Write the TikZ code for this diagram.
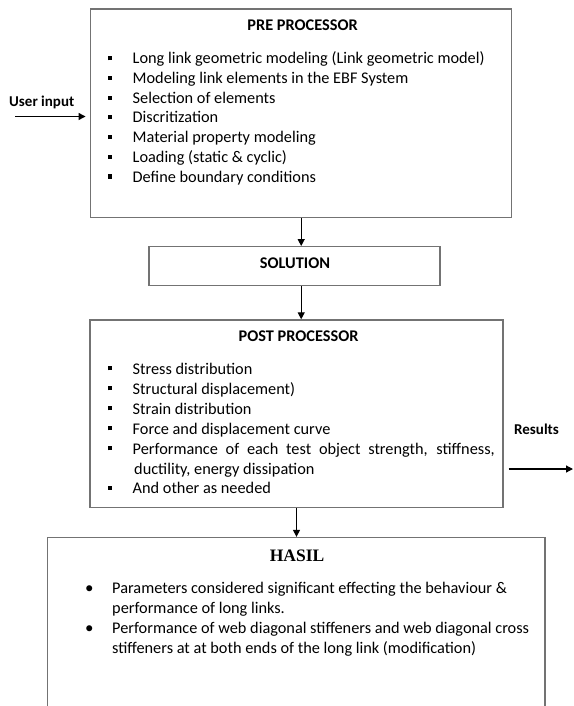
\documentclass[tikz,border=0pt]{standalone}
\usepackage{fontspec}
\setmainfont{Carlito}
\newfontfamily\timesfont{Liberation Serif}
\usetikzlibrary{arrows.meta}
\newcommand{\sqb}{\makebox[24.5pt][l]{\rule[0.22em]{4.2pt}{4.2pt}}}
\newcommand{\rdb}{\makebox[27pt][l]{\raisebox{-0.05em}{\fontsize{17}{17}\selectfont\symbol{"2022}}}}
\tikzset{
  box/.style={draw=black!55, line width=1.3pt, rectangle, inner sep=0pt},
  arr/.style={draw=black, line width=1.2pt, -{Triangle[length=7pt,width=7pt]}},
  txt/.style={anchor=base west, inner sep=0pt, font=\fontsize{16.3}{19}\selectfont},
  ttl/.style={anchor=center, inner sep=0pt, font=\fontsize{16.3}{19}\selectfont\bfseries},
  side/.style={anchor=west, inner sep=0pt, font=\fontsize{15}{18}\selectfont\bfseries},
}
\begin{document}
\begin{tikzpicture}[x=1pt,y=-1pt]
\path[use as bounding box] (0,0) rectangle (573,706);
% boxes
\node[box, minimum width=421pt, minimum height=208.3pt] (pre) at (301.2,113.2) {};
\node[box, minimum width=291pt, minimum height=38.8pt] (sol) at (294.5,266.1) {};
\node[box, minimum width=413pt, minimum height=187.5pt] (post) at (296.5,413.7) {};
\node[box, minimum width=497.7pt, minimum height=220pt] (hasil) at (296.2,647.5) {};
% pre processor text
\node[ttl] (pret) at (302.6,25.5) {PRE PROCESSOR};
\node[txt] (p1) at (108,64) {\sqb Long link geometric modeling (Link geometric model)};
\node[txt] (p2) at (108,83.5) {\sqb Modeling link elements in the EBF System};
\node[txt] (p3) at (108,103.3) {\sqb Selection of elements};
\node[txt] (p4) at (108,123) {\sqb Discritization};
\node[txt] (p5) at (108,142.8) {\sqb Material property modeling};
\node[txt] (p6) at (108,162.5) {\sqb Loading (static \& cyclic)};
\node[txt] (p7) at (108,182.2) {\sqb Define boundary conditions};
% solution
\node[ttl] (solt) at (295,263.5) {SOLUTION};
% post processor
\node[ttl] (postt) at (298.6,336.3) {POST PROCESSOR};
\node[txt] (q1) at (108,374) {\sqb Stress distribution};
\node[txt] (q2) at (108,394) {\sqb Structural displacement)};
\node[txt] (q3) at (108,414) {\sqb Strain distribution};
\node[txt] (q4) at (108,434) {\sqb Force and displacement curve};
\node[txt] (q5) at (108,454) {\sqb\makebox[362pt][s]{Performance of each test object strength, stiffness,}};
\node[txt] (q6) at (134,474) {ductility, energy dissipation};
\node[txt] (q7) at (108,493.5) {\sqb And other as needed};
% hasil
\node[anchor=center, inner sep=0pt, font=\timesfont\fontsize{17.5}{20}\selectfont\bfseries] (hasilt) at (297,555.5) {HASIL};
\node[txt] (h1) at (85,593) {\rdb Parameters considered significant effecting the behaviour \&};
\node[txt] (h2) at (112,613) {performance of long links.};
\node[txt] (h3) at (85,633) {\rdb Performance of web diagonal stiffeners and web diagonal cross};
\node[txt] (h4) at (112,653) {stiffeners at at both ends of the long link (modification)};
% side labels
\node[side] (uin) at (9,102.5) {User input};
\node[side] (res) at (514,429.5) {Results};
\coordinate (uinstart) at (15,116.5);
\coordinate (resend) at (573,469);
% connectors
\draw[arr] (uinstart) -- ([xshift=-4.5pt]uinstart -| pre.west);
\draw[arr] (pre.south) -- (pre.south |- sol.north);
\draw[arr] (sol.south -| pre.south) -- (pre.south |- post.north);
\draw[arr] (post.south) -- (post.south |- hasil.north);
\draw[arr] ([xshift=5pt]post.east |- resend) -- (resend);
\end{tikzpicture}
\end{document}
